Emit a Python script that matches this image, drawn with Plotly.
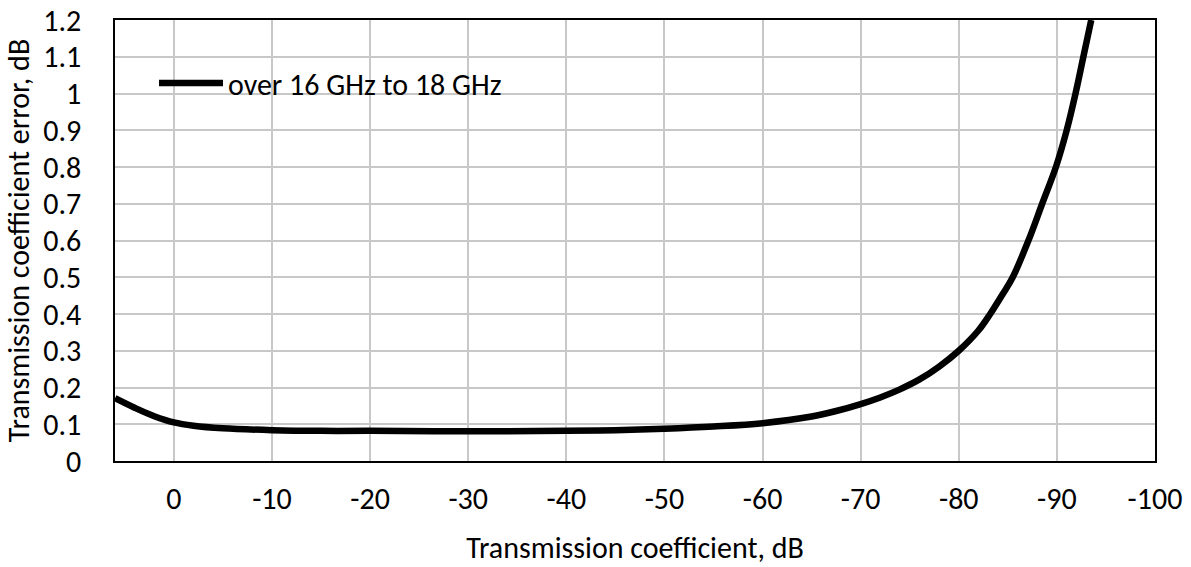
import plotly.graph_objects as go

# Data
coef_db = [6, 4, 2, 0, -2, -5, -10, -15, -20, -30, -40, -45, -50, -55, -60, -65, -67.5,
           -70, -72, -74, -76, -78, -80, -82, -83.2, -84.5, -85.5, -87.1, -88.5, -89.9,
           -91.0, -91.9, -92.7, -93.5]
error_db = [0.171, 0.145, 0.122, 0.105, 0.096, 0.089, 0.084, 0.082, 0.082, 0.081, 0.082,
            0.084, 0.088, 0.094, 0.103, 0.121, 0.136, 0.155, 0.173, 0.195, 0.222, 0.257,
            0.30, 0.355, 0.40, 0.455, 0.50, 0.60, 0.70, 0.80, 0.90, 1.00, 1.10, 1.20]
series_name = "over 16 GHz to 18 GHz"
x_ticks = [0, -10, -20, -30, -40, -50, -60, -70, -80, -90, -100]
y_ticks = [0, 0.1, 0.2, 0.3, 0.4, 0.5, 0.6, 0.7, 0.8, 0.9, 1, 1.1, 1.2]

FONT = "Carlito, Lato, sans-serif"
FS = 30

fig = go.Figure()
fig.add_trace(go.Scatter(
    x=coef_db, y=error_db, mode="lines", name=series_name,
    line=dict(color="black", width=6.5, shape="spline", smoothing=1.0),
))

fig.update_layout(
    width=1191, height=567,
    margin=dict(l=115, r=36, t=20, b=106),
    paper_bgcolor="white", plot_bgcolor="white",
    font=dict(family=FONT, size=FS, color="black"),
    showlegend=True,
    legend=dict(x=0.0375, y=0.857, xanchor="left", yanchor="middle",
                bgcolor="rgba(0,0,0,0)", font=dict(size=FS, family=FONT),
                itemwidth=64),
)
fig.update_xaxes(
    range=[6, -100], tickvals=x_ticks, ticktext=[str(v) for v in x_ticks],
    showgrid=True, gridcolor="#c8c8c8", gridwidth=1.5,
    showline=True, linecolor="black", linewidth=1.5, mirror=True,
    zeroline=False, ticks="", ticklen=0, ticklabelstandoff=10, automargin=False,
    ticklabeloverflow="allow",
    tickfont=dict(size=FS, family=FONT),
    title=dict(text="Transmission coefficient, dB", font=dict(size=FS, family=FONT), standoff=21),
)
fig.update_yaxes(
    range=[0, 1.2], tickvals=y_ticks, ticktext=[f"{v:g}" for v in y_ticks],
    showgrid=True, gridcolor="#c8c8c8", gridwidth=1.5,
    showline=True, linecolor="black", linewidth=1.5, mirror=True,
    zeroline=False, ticks="", ticklen=0, ticklabelstandoff=26, automargin=False,
    ticklabeloverflow="allow",
    tickfont=dict(size=FS, family=FONT),
    title=dict(text="Transmission coefficient error, dB", font=dict(size=FS, family=FONT), standoff=16),
)

# Remove the page's default body margin so the figure fills the window exactly.
fig.write_html("out.html", config={"displayModeBar": False},
               post_script="document.body.style.margin='0';")
